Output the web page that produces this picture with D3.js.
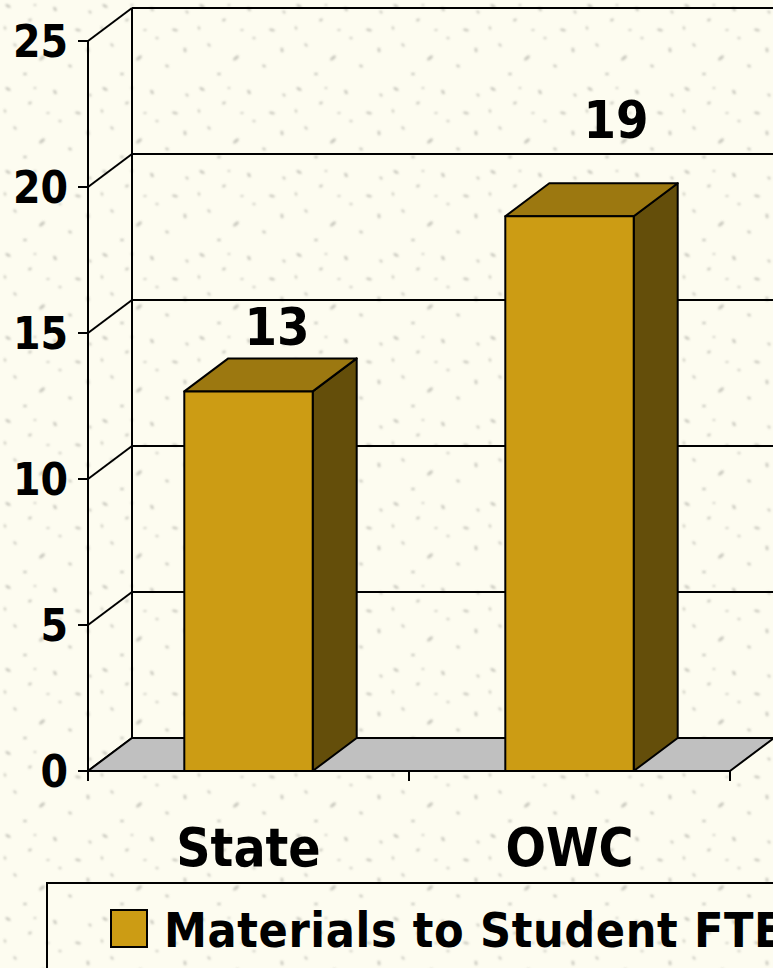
<!DOCTYPE html>
<html><head><meta charset="utf-8">
<script src="https://cdn.jsdelivr.net/npm/d3@7"></script>
<style>html,body{margin:0;padding:0;background:#fdfcf0;overflow:hidden}</style>
</head><body>
<svg id="c" width="773" height="968"></svg>
<script>
const categories = ["State", "OWC"];
const values = [13, 19];
const seriesName = "Materials to Student FTE";
const yTicks = [0, 5, 10, 15, 20, 25];

const W = 773, H = 968;
const FONT = "'DejaVu Sans Condensed','DejaVu Sans',sans-serif";
const svg = d3.select("#c");
const dx = 44, dy = -33;
const colFront = "#cc9c14", colTop = "#9c7810", colSide = "#644e0a";

// background texture
const defs = svg.append("defs");
defs.append("filter").attr("id","blur").append("feGaussianBlur").attr("stdDeviation",0.8);
const pat = defs.append("pattern").attr("id","tex").attr("patternUnits","userSpaceOnUse")
  .attr("width",97).attr("height",83);
pat.append("rect").attr("width",97).attr("height",83).attr("fill","#fdfcf0");
const specks = [[8,6,3,1.5,30],[30,20,2,1.2,-20],[55,9,2.5,1.5,60],[78,30,3,1.3,10],[15,45,2,1.2,45],
  [42,58,3.5,1.6,-40],[70,66,2,1.2,20],[88,50,2.5,1.4,80],[25,74,2,1.3,0],[60,38,1.5,1.2,30],
  [5,28,1.8,1.1,70],[48,30,1.6,1.0,-10],[90,12,1.8,1.2,40],[35,5,1.4,1.0,0]];
const sg = pat.append("g").attr("filter","url(#blur)");
specks.forEach(s=>sg.append("ellipse").attr("cx",s[0]).attr("cy",s[1]).attr("rx",s[2]).attr("ry",s[3])
  .attr("transform",`rotate(${s[4]},${s[0]},${s[1]})`).attr("fill","#7a7a72").attr("opacity",0.4));
svg.append("rect").attr("width",W).attr("height",H).attr("fill","url(#tex)");

const y = d3.scaleLinear().domain([0,25]).range([771,41]);
const x = d3.scaleBand().domain(categories).range([88,730]).paddingInner(0.6).paddingOuter(0.3);
const xTicks = d3.scaleBand().domain(categories).range([88,730]);
const labelY = d3.scaleLinear().domain([0,25]).range([793.5,-69]);
const labelX = d3.scaleLinear().domain([248.5,569.5]).range([277,616]);

const g = svg.append("g");
// back wall gridlines
yTicks.forEach(t=>{
  g.append("line").attr("x1",88+dx).attr("x2",W+5).attr("y1",y(t)+dy).attr("y2",y(t)+dy)
   .attr("stroke","#000").attr("stroke-width",2);
  g.append("line").attr("x1",88).attr("x2",88+dx).attr("y1",y(t)).attr("y2",y(t)+dy)
   .attr("stroke","#000").attr("stroke-width",2);
});
// back wall vertical
g.append("line").attr("x1",88+dx).attr("x2",88+dx).attr("y1",y(25)+dy).attr("y2",y(0)+dy)
 .attr("stroke","#000").attr("stroke-width",2);
// floor
g.append("polygon").attr("points",[[88,y(0)],[730,y(0)],[730+dx,y(0)+dy],[88+dx,y(0)+dy]].join(" "))
 .attr("fill","#c0c0c0").attr("stroke","#000").attr("stroke-width",2).attr("stroke-linejoin","round");
// front y axis
g.append("line").attr("x1",88).attr("x2",88).attr("y1",y(25)).attr("y2",y(0)+10)
 .attr("stroke","#000").attr("stroke-width",2);
// y ticks + labels
yTicks.forEach(t=>{
  g.append("line").attr("x1",78).attr("x2",88).attr("y1",y(t)).attr("y2",y(t)).attr("stroke","#000").attr("stroke-width",2);
  g.append("text").attr("x",68).attr("y",y(t)+16).attr("text-anchor","end")
   .attr("font-family",FONT).attr("font-weight","bold").attr("font-size",44).text(t);
});
// x ticks
[88, ...categories.map(c=>xTicks(c)+xTicks.bandwidth())].forEach(px=>{
  g.append("line").attr("x1",px).attr("x2",px).attr("y1",y(0)).attr("y2",y(0)+10).attr("stroke","#000").attr("stroke-width",2);
});
// bars
categories.forEach((c,i)=>{
  const v = values[i], x0 = x(c), x1 = x(c)+x.bandwidth(), yt = y(v), yb = y(0);
  const bg = g.append("g").attr("stroke","#000").attr("stroke-width",2).attr("stroke-linejoin","round");
  bg.append("polygon").attr("points",[[x1,yt],[x1+dx,yt+dy],[x1+dx,yb+dy],[x1,yb]].join(" ")).attr("fill",colSide);
  bg.append("polygon").attr("points",[[x0,yt],[x0+dx,yt+dy],[x1+dx,yt+dy],[x1,yt]].join(" ")).attr("fill",colTop);
  bg.append("rect").attr("x",x0).attr("y",yt).attr("width",x1-x0).attr("height",yb-yt).attr("fill",colFront);
  const cx = x0 + x.bandwidth()/2;
  g.append("text").attr("x",labelX(cx)).attr("y",labelY(v)).attr("text-anchor","middle")
   .attr("font-family",FONT).attr("font-weight","bold").attr("font-size",52).text(v);
  g.append("text").attr("x",cx).attr("y",866).attr("text-anchor","middle")
   .attr("font-family",FONT).attr("font-weight","bold").attr("font-size",53).text(c);
});
// legend
g.append("rect").attr("x",47).attr("y",883).attr("width",W).attr("height",200)
 .attr("fill","none").attr("stroke","#000").attr("stroke-width",2);
g.append("rect").attr("x",111).attr("y",910).attr("width",36).attr("height",37)
 .attr("fill",colFront).attr("stroke","#000").attr("stroke-width",2);
g.append("text").attr("x",164).attr("y",947).attr("font-family",FONT).attr("font-weight","bold")
 .attr("font-size",48).attr("letter-spacing",0.6).text(seriesName);
</script>
</body></html>
